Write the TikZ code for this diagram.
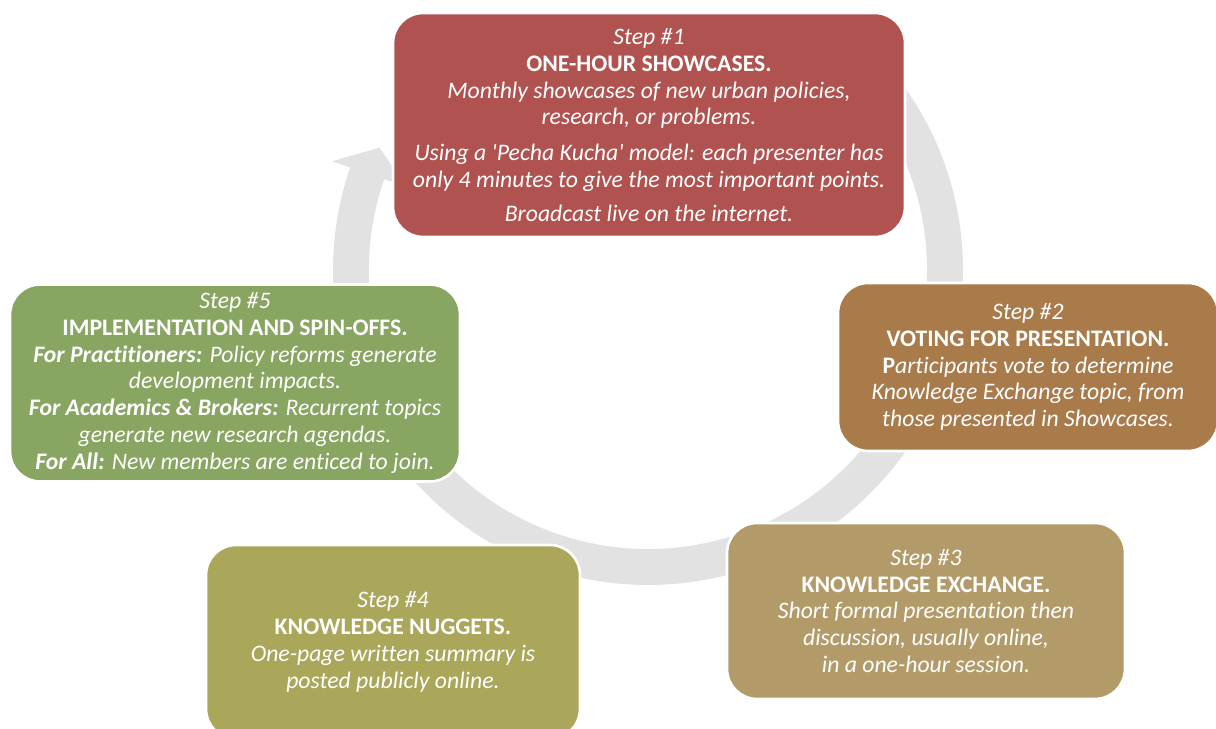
\documentclass[tikz,border=0pt]{standalone}
\usepackage{fontspec}
\setmainfont{Carlito}[Ligatures={TeX,NoCommon}]
\definecolor{myred}{RGB}{176,82,79}
\definecolor{mybrown}{RGB}{169,122,74}
\definecolor{mysand}{RGB}{179,155,105}
\definecolor{myolive}{RGB}{170,167,90}
\definecolor{mygreen}{RGB}{137,165,98}
\definecolor{mygrey}{RGB}{226,226,226}

\begin{document}
\begin{tikzpicture}[x=0.02cm, y=0.02cm,
    stepbox/.style={rounded corners=0.6cm, draw=white, line width=1.5pt,
        text=white, align=center, inner sep=0pt,
        font=\fontsize{13.5}{15.3}\selectfont}]
    \useasboundingbox (0,0) rectangle (1216,729);
    \clip (0,0) rectangle (1216,729);
    % cycle arrow
    \begin{scope}[shift={(648,459)}]
        \fill[mygrey] (45:315) arc[start angle=45, end angle=-199, radius=315]
            -- (-199:334) -- (-204.5:295) -- (-199:256) -- (-199:279)
            arc[start angle=-199, end angle=45, radius=279] -- cycle;
    \end{scope}
    % steps
    \node[stepbox, fill=myred, minimum width=10.24cm, minimum height=4.48cm] (step1) at (649,604) {
        \textit{Step \#1}\\
        \textbf{ONE-HOUR SHOWCASES.}\\
        \textit{Monthly showcases of new urban policies,}\\
        \textit{research, or problems.}\\[5pt]
        \textit{Using a \textquotesingle Pecha Kucha\textquotesingle\ model: each presenter has}\\
        \textit{only 4 minutes to give the most important points.}\\[4pt]
        \textit{Broadcast live on the internet.}};
    \node[stepbox, fill=mybrown, minimum width=7.6cm, minimum height=3.36cm] (step2) at (1028,362) {
        \textit{Step \#2}\\
        \textbf{VOTING FOR PRESENTATION.}\\
        \textbf{P}\textit{articipants vote to determine}\\
        \textit{Knowledge Exchange topic, from}\\
        \textit{those presented in Showcases.}};
    \node[stepbox, fill=mysand, minimum width=7.96cm, minimum height=3.52cm] (step3) at (926,118) {
        \textit{Step \#3}\\
        \textbf{KNOWLEDGE EXCHANGE.}\\
        \textit{Short formal presentation then}\\
        \textit{discussion, usually online,}\\
        \textit{in a one-hour session.}};
    \node[stepbox, fill=myolive, minimum width=7.48cm, minimum height=3.88cm] (step4) at (393,87) {
        \textit{Step \#4}\\
        \textbf{KNOWLEDGE NUGGETS.}\\
        \textit{One-page written summary is}\\
        \textit{posted publicly online.}};
    \node[stepbox, fill=mygreen, minimum width=9.0cm, minimum height=3.94cm] (step5) at (235,346) {
        \textit{Step \#5}\\
        \textbf{IMPLEMENTATION AND SPIN-OFFS.}\\
        \textbf{\textit{For Practitioners:}} \textit{Policy reforms generate}\\
        \textit{development impacts.}\\
        \textbf{\textit{For Academics \& Brokers:}} \textit{Recurrent topics}\\
        \textit{generate new research agendas.}\\
        \textbf{\textit{For All:}} \textit{New members are enticed to join.}};
\end{tikzpicture}
\end{document}
